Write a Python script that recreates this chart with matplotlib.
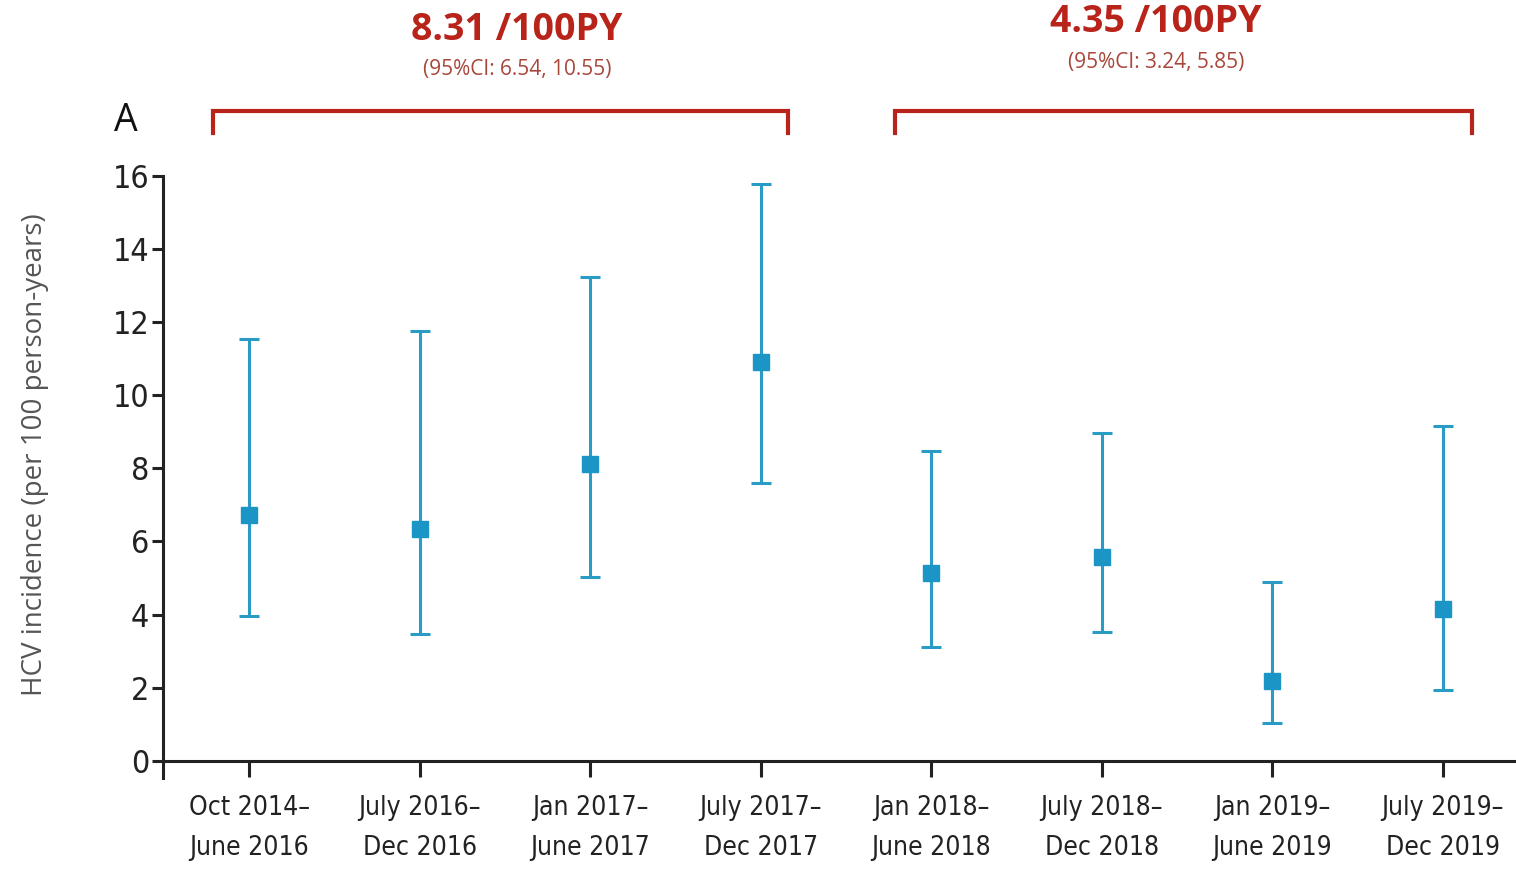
import matplotlib
matplotlib.use("Agg")
import matplotlib.pyplot as plt

# HCV incidence per 6-month period (per 100 person-years) with 95% CI
periods = ["Oct 2014–\nJune 2016", "July 2016–\nDec 2016", "Jan 2017–\nJune 2017",
           "July 2017–\nDec 2017", "Jan 2018–\nJune 2018", "July 2018–\nDec 2018",
           "Jan 2019–\nJune 2019", "July 2019–\nDec 2019"]
incidence = [6.73, 6.35, 8.12, 10.91, 5.14, 5.58, 2.19, 4.16]
ci_low = [3.97, 3.47, 5.03, 7.60, 3.12, 3.53, 1.04, 1.94]
ci_high = [11.54, 11.76, 13.24, 15.78, 8.48, 8.97, 4.90, 9.16]
yticks = [0, 2, 4, 6, 8, 10, 12, 14, 16]

# Pooled rates for the two eras
era_rates = ["8.31 /100PY", "4.35 /100PY"]
era_ci = ["(95%CI: 6.54, 10.55)", "(95%CI: 3.24, 5.85)"]

cond = ["DejaVu Sans"]
blue = "#1b95c6"
red = "#b8231a"

fig = plt.figure(figsize=(15.16, 8.72), dpi=100)
ax = fig.add_axes([0.1075, 0.1078, 0.8925, 0.703])

x = list(range(len(periods)))
lower = [m - l for m, l in zip(incidence, ci_low)]
upper = [h - m for m, h in zip(incidence, ci_high)]
ax.errorbar(x, incidence, yerr=[lower, upper], fmt="s", color=blue,
            ecolor="#2a9bc4", elinewidth=2.2, capsize=7, capthick=2.2,
            markersize=12, zorder=3)

ax.set_xlim(-0.505, 7.43)
ax.set_ylim(-0.47, 16.3)

# Axis lines: x axis sits at zero, y axis runs down to the tick ends
for side in ("top", "right"):
    ax.spines[side].set_visible(False)
ax.spines["bottom"].set_position(("data", 0))
ax.spines["left"].set_bounds(-0.47, 16)
for side in ("left", "bottom"):
    ax.spines[side].set_linewidth(2.2)
    ax.spines[side].set_color("#222222")

ax.set_yticks(yticks)
ax.set_xticks(x)
ax.set_xticklabels(periods, fontfamily=cond, fontstretch="condensed",
                   fontsize=19, color="#222222", linespacing=1.7)
ax.set_yticklabels([str(t) for t in yticks], fontfamily=cond,
                   fontstretch="condensed", fontsize=23, color="#222222")
ax.tick_params(axis="y", length=8, width=2.2, color="#222222", pad=2)
ax.tick_params(axis="x", length=11.5, width=2.2, color="#222222", pad=13)

ax.set_ylabel("HCV incidence (per 100 person-years)",
              fontfamily=["Open Sans", "DejaVu Sans"], fontsize=20,
              color="#555555")
ax.yaxis.set_label_coords(-0.084, 0.527)

# Era brackets with pooled rates
brackets = [(-0.21, 3.16), (3.79, 7.17)]
rate_pos = [(1.57, 20.0), (5.32, 20.2)]
ci_pos = [(1.57, 18.9), (5.32, 19.1)]
for (x0, x1), rate, ci, (rx, ry), (cx, cy) in zip(brackets, era_rates, era_ci,
                                                  rate_pos, ci_pos):
    ax.plot([x0, x0, x1, x1], [17.18, 17.78, 17.78, 17.18], color=red,
            linewidth=3, clip_on=False, solid_joinstyle="miter")
    ax.text(rx, ry, rate, ha="center", va="center", fontsize=27,
            fontweight="bold", color=red, fontfamily=["Open Sans", "DejaVu Sans"])
    ax.text(cx, cy, ci, ha="center", va="center", fontsize=15,
            color="#a8463a", fontfamily=["Open Sans", "DejaVu Sans"])

ax.text(-0.72, 17.5, "A", ha="center", va="center", fontsize=27,
        fontweight="medium", color="#111111",
        fontfamily=["Open Sans", "DejaVu Sans"])

fig.savefig("out.png", dpi=100)
